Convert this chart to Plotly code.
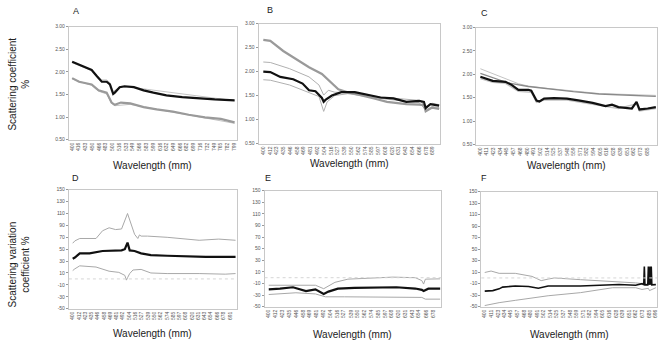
import plotly.graph_objects as go

# ---------------- data ----------------
# Panel A
A_black_x = [400, 417, 433, 448, 461, 473, 485, 493, 501, 505, 517, 529, 552, 576, 600, 632, 671, 711, 751, 800]
A_black_y = [2.22, 2.15, 2.09, 2.04, 1.90, 1.78, 1.78, 1.72, 1.51, 1.54, 1.66, 1.68, 1.66, 1.59, 1.54, 1.48, 1.44, 1.41, 1.39, 1.37]
A_gray_x = [400, 417, 448, 465, 485, 497, 505, 520, 543, 576, 608, 648, 687, 727, 766, 800]
A_gray_y = [1.86, 1.78, 1.72, 1.59, 1.54, 1.32, 1.27, 1.32, 1.30, 1.22, 1.17, 1.12, 1.05, 0.99, 0.96, 0.88]
A_thin1_x = [400, 448, 461, 473, 485, 493, 501, 517, 552, 800]
A_thin1_y = [2.20, 2.03, 1.92, 1.82, 1.82, 1.76, 1.56, 1.66, 1.65, 1.36]
A_thin2_x = [400, 448, 465, 485, 497, 505, 543, 800]
A_thin2_y = [1.84, 1.70, 1.57, 1.51, 1.30, 1.25, 1.28, 0.86]
A_ticks = [400, 416, 433, 450, 466, 483, 500, 516, 533, 549, 566, 583, 599, 616, 632, 649, 666, 682, 699, 716, 732, 749, 765, 782, 799]

# Panel B
B_black_x = [400, 412, 429, 451, 467, 478, 489, 500, 503, 506, 517, 533, 556, 578, 600, 622, 644, 666, 674, 677, 685, 700]
B_black_y = [2.00, 1.99, 1.89, 1.84, 1.75, 1.61, 1.59, 1.45, 1.37, 1.41, 1.50, 1.57, 1.57, 1.51, 1.46, 1.44, 1.37, 1.39, 1.37, 1.24, 1.32, 1.29]
B_gray_x = [400, 412, 434, 456, 478, 500, 511, 528, 544, 567, 589, 611, 644, 666, 674, 677, 688, 700]
B_gray_y = [2.66, 2.64, 2.43, 2.26, 2.09, 1.95, 1.82, 1.63, 1.57, 1.51, 1.44, 1.37, 1.32, 1.31, 1.30, 1.17, 1.25, 1.22]
B_thin1_x = [400, 412, 445, 478, 495, 503, 511, 522, 544, 600, 666, 677, 688, 700]
B_thin1_y = [2.20, 2.19, 2.06, 1.89, 1.72, 1.51, 1.61, 1.57, 1.56, 1.47, 1.40, 1.27, 1.34, 1.31]
B_thin2_x = [400, 412, 445, 473, 495, 503, 509, 522, 544, 600, 666, 677, 688, 700]
B_thin2_y = [1.83, 1.82, 1.72, 1.59, 1.48, 1.17, 1.37, 1.50, 1.54, 1.44, 1.35, 1.20, 1.27, 1.25]
B_ticks = [400, 412, 423, 435, 446, 458, 469, 481, 492, 504, 516, 527, 539, 550, 562, 574, 585, 597, 608, 620, 631, 643, 654, 666, 678, 689]

# Panel C
C_black_x = [400, 421, 443, 454, 465, 482, 487, 496, 501, 509, 526, 548, 570, 592, 614, 625, 636, 659, 667, 672, 686, 700]
C_black_y = [1.95, 1.86, 1.84, 1.77, 1.67, 1.67, 1.65, 1.44, 1.42, 1.48, 1.49, 1.48, 1.44, 1.39, 1.32, 1.35, 1.30, 1.27, 1.41, 1.25, 1.27, 1.30]
C_gray_x = [400, 421, 449, 482, 515, 559, 603, 648, 700]
C_gray_y = [2.02, 1.93, 1.81, 1.74, 1.69, 1.63, 1.58, 1.55, 1.53]
C_thin1_x = [400, 421, 443, 465, 482, 515, 603, 700]
C_thin1_y = [2.12, 2.02, 1.90, 1.80, 1.75, 1.70, 1.59, 1.55]
C_thin2_x = [400, 421, 443, 465, 487, 496, 509, 548, 592, 636, 667, 672, 700]
C_thin2_y = [1.91, 1.83, 1.81, 1.64, 1.62, 1.40, 1.45, 1.45, 1.36, 1.27, 1.37, 1.22, 1.27]
C_ticks = [400, 411, 423, 434, 445, 457, 468, 480, 491, 502, 514, 525, 537, 548, 559, 571, 582, 594, 605, 616, 628, 639, 651, 662, 673, 685]

# Panel D
D_black_x = [400, 404, 413, 431, 455, 479, 490, 496, 501, 505, 514, 526, 544, 574, 610, 645, 700]
D_black_y = [34, 36, 43, 43, 47, 47, 48, 50, 61, 48, 47, 43, 40, 39, 38, 37, 37]
D_up_x = [400, 404, 413, 443, 455, 467, 479, 490, 501, 508, 514, 520, 523, 526, 538, 574, 610, 633, 669, 700]
D_up_y = [60, 64, 68, 68, 81, 86, 83, 84, 110, 89, 75, 68, 74, 72, 72, 70, 67, 65, 67, 65]
D_lo_x = [400, 404, 413, 443, 467, 485, 496, 499, 501, 505, 511, 526, 544, 574, 633, 681, 700]
D_lo_y = [14, 17, 22, 20, 13, 11, 6, -2, 2, 9, 15, 16, 10, 9, 9, 8, 9]
D_ticks = [400, 412, 423, 435, 446, 458, 469, 481, 492, 504, 516, 527, 539, 550, 562, 574, 585, 597, 608, 620, 631, 643, 654, 666, 678, 691]

# Panel E
E_black_x = [400, 419, 441, 463, 479, 493, 501, 517, 545, 583, 616, 648, 659, 662, 670, 690]
E_black_y = [-20, -19, -16.5, -23, -20, -28, -24, -19, -17.6, -17.6, -16.5, -18.7, -21, -23, -19, -19]
E_up_x = [400, 446, 479, 493, 512, 534, 572, 610, 648, 659, 662, 665, 690]
E_up_y = [-13, -13, -13, -19, -8, -2.5, -1, 1, 0, -5, -11, -2.5, -2]
E_lo_x = [400, 446, 479, 496, 528, 610, 659, 665, 690]
E_lo_y = [-29, -26, -28, -33, -33, -34, -34, -37, -37]
E_ticks = [400, 412, 423, 435, 446, 458, 469, 481, 492, 504, 516, 527, 539, 550, 562, 574, 585, 597, 608, 620, 631, 643, 654, 666, 678]

# Panel F
F_black_x = [400, 411, 414, 425, 431, 453, 476, 493, 510, 566, 594, 611, 633, 662, 673, 676, 677, 678, 683, 684, 685, 686, 687, 688, 689, 690, 697]
F_black_y = [-23, -23, -22, -19, -16, -14, -15, -18, -14, -14, -13, -11.5, -11.5, -12.6, -10, -12, 20, -12, -12, 20, -12, -12, 20, -12, 20, -12, -11.5]
F_up_x = [400, 411, 425, 453, 482, 498, 510, 521, 566, 622, 662, 697]
F_up_y = [9.5, 12, 8, 8, 2.7, -4.7, -2, 0, -3, -7, -8.6, -12.6]
F_lo_x = [400, 425, 453, 482, 510, 566, 622, 662, 673, 684, 686, 697]
F_lo_y = [-48, -43, -39, -35, -31, -25.6, -17, -17, -20, -18, -22, -17]
F_ticks = [400, 411, 423, 434, 445, 457, 468, 480, 491, 502, 514, 525, 537, 548, 559, 571, 582, 594, 605, 616, 628, 639, 651, 662, 673, 685, 696]

TOP_Y_TICKS = [0.5, 1.0, 1.5, 2.0, 2.5, 3.0]
BOT_Y_TICKS = [-50, -30, -10, 10, 30, 50, 70, 90, 110, 130, 150]

# ---------------- figure ----------------
W, H = 664, 349
FONT = "Liberation Sans Narrow, Arial Narrow, Liberation Sans, Arial, sans-serif"
BLACK = "#111111"
GRAY = "#9a9a9a"
LIGHT = "#c4c4c4"

fig = go.Figure()

def add(xs, ys, ax, color, width):
    fig.add_trace(go.Scatter(x=xs, y=ys, mode="lines", xaxis="x" + ax, yaxis="y" + ax,
                             line=dict(color=color, width=width), hoverinfo="skip", showlegend=False))

# A
add(A_thin1_x, A_thin1_y, "", LIGHT, 1)
add(A_thin2_x, A_thin2_y, "", LIGHT, 1)
add(A_gray_x, A_gray_y, "", GRAY, 2.2)
add(A_black_x, A_black_y, "", BLACK, 2.2)
# B
add(B_thin1_x, B_thin1_y, "2", "#b0b0b0", 1)
add(B_thin2_x, B_thin2_y, "2", "#b0b0b0", 1)
add(B_gray_x, B_gray_y, "2", GRAY, 2.2)
add(B_black_x, B_black_y, "2", BLACK, 2.2)
# C
add(C_thin1_x, C_thin1_y, "3", LIGHT, 1)
add(C_thin2_x, C_thin2_y, "3", LIGHT, 1.5)
add(C_gray_x, C_gray_y, "3", "#8a8a8a", 1.3)
add(C_black_x, C_black_y, "3", BLACK, 2.2)
# D
add(D_up_x, D_up_y, "4", "#a8a8a8", 1)
add(D_lo_x, D_lo_y, "4", "#a8a8a8", 1)
add(D_black_x, D_black_y, "4", BLACK, 2.2)
# E
add(E_up_x, E_up_y, "5", "#a8a8a8", 1)
add(E_lo_x, E_lo_y, "5", "#a8a8a8", 1)
add(E_black_x, E_black_y, "5", BLACK, 2.2)
# F
add(F_up_x, F_up_y, "6", "#a8a8a8", 1)
add(F_lo_x, F_lo_y, "6", "#a8a8a8", 1)
add(F_black_x, F_black_y, "6", BLACK, 1.6)

def px_dom_x(l, r):
    return [l / W, r / W]

def px_dom_y(t, b):
    return [1 - b / H, 1 - t / H]

panels = [
    ("", (69, 237), (24, 139), [392, 805], A_ticks, True),
    ("2", (259, 441), (21, 143), [392, 702], B_ticks, True),
    ("3", (477, 658), (25, 144), [393, 702], C_ticks, True),
    ("4", (69, 237), (190, 311), [393, 702], D_ticks, False),
    ("5", (265, 442), (191, 309), [393, 692], E_ticks, False),
    ("6", (482, 658), (192, 309), [394, 699], F_ticks, False),
]

layout = dict(width=W, height=H, margin=dict(l=0, r=0, t=0, b=0),
              paper_bgcolor="white", plot_bgcolor="white",
              font=dict(family=FONT, color="#333333"), showlegend=False)
shapes = []
for name, xd, yd, xr, ticks, top in panels:
    layout["xaxis" + name] = dict(
        domain=px_dom_x(*xd), range=xr, anchor="y" + name,
        tickvals=ticks, ticktext=[str(t) for t in ticks], tickangle=-90,
        tickfont=dict(size=5, family=FONT, color="#555"),
        showgrid=False, zeroline=False, showline=True, linecolor="#c8c8c8", linewidth=1,
        mirror=True, ticks="", fixedrange=True)
    if top:
        yt = TOP_Y_TICKS
        ytext = ["%.2f" % v for v in yt]
        yr = [0.5, 3.0]
    else:
        yt = BOT_Y_TICKS
        ytext = [str(v) for v in yt]
        yr = [-50, 150]
    layout["yaxis" + name] = dict(
        domain=px_dom_y(*yd), range=yr, anchor="x" + name,
        tickvals=yt, ticktext=ytext, tickfont=dict(size=5, family=FONT, color="#555"),
        showgrid=False, zeroline=False, showline=True, linecolor="#c8c8c8", linewidth=1,
        mirror=True, ticks="outside", ticklen=2, tickcolor="#999", fixedrange=True)
    if not top:
        shapes.append(dict(type="line", xref="x" + name + " domain", yref="y" + name,
                           x0=0, x1=1, y0=0, y1=0, line=dict(color="#d6d6d6", width=1, dash="dot")))
layout["shapes"] = shapes

ann = []
def text(x, y, s, size=9.5, angle=0):
    ann.append(dict(x=x / W, y=1 - y / H, xref="paper", yref="paper", text=s, showarrow=False,
                    font=dict(size=size, family=FONT, color="#222"), textangle=angle,
                    xanchor="center", yanchor="middle"))

for lbl, x, y in [("A", 76, 8), ("B", 270, 7), ("C", 485, 10), ("D", 76, 178), ("E", 268, 178), ("F", 485, 178)]:
    text(x, y, lbl, size=9)
for x, y in [(153, 165), (350, 163), (567, 165), (153, 336), (353, 337), (570, 337)]:
    text(x, y, "Wavelength (mm)", size=10)
text(19, 82, "Scattering coefficient<br>%", size=10, angle=-90)
text(19, 266, "Scattering variation<br>coefficient %", size=10, angle=-90)
layout["annotations"] = ann

fig.update_layout(**layout)
fig.write_html("out.html", config={"displayModeBar": False},
               post_script="document.body.style.margin='0';document.body.style.padding='0';document.body.style.overflow='hidden';")
